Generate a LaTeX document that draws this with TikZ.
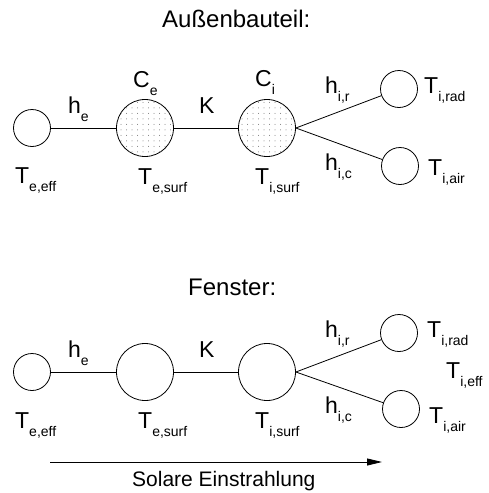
\documentclass[tikz,border=0pt]{standalone}
\usepackage{fontspec}
\setmainfont{Liberation Sans}
\usetikzlibrary{arrows.meta,patterns.meta}
\newcommand{\tlab}[2]{#1\raisebox{-8pt}{\fontsize{14}{16}\selectfont #2}}
\tikzset{
  small node/.style={circle, draw, line width=0.8pt, minimum size=37pt, inner sep=0pt},
  big node/.style={circle, draw, line width=0.8pt, minimum size=57pt, inner sep=0pt},
  mass node/.style={big node, pattern={Dots[distance=5.5pt,radius=0.5pt]}, pattern color=black!55},
  lbl/.style={anchor=base west, inner sep=0pt, font=\fontsize{23}{27}\selectfont},
  title/.style={anchor=base west, inner sep=0pt, font=\fontsize{24}{28}\selectfont},
  wire/.style={line width=0.8pt},
}
\begin{document}
\begin{tikzpicture}[x=1pt, y=-1pt]
  \useasboundingbox (0,0) rectangle (489,493);
  % Aussenbauteil
  \node[title] (ttop) at (162,27) {Außenbauteil:};
  \node[small node] (ateeff) at (32,128) {};
  \node[mass node] (atesurf) at (145,128) {};
  \node[mass node] (atisurf) at (267,128) {};
  \node[small node] (atirad) at (399,89) {};
  \node[small node] (atiair) at (400,166) {};
  \draw[wire] (ateeff) -- (atesurf);
  \draw[wire] (atesurf) -- (atisurf);
  \draw[wire] (atisurf.east) -- (atirad);
  \draw[wire] (atisurf.east) -- (atiair);
  \node[lbl] (ahe) at (68,113) {\tlab{h}{e}};
  \node[lbl] (ace) at (133,87) {\tlab{C}{e}};
  \node[lbl] (ak) at (199,113) {K};
  \node[lbl] (aci) at (255,86) {\tlab{C}{i}};
  \node[lbl] (ahir) at (325,93) {\tlab{h}{i,r}};
  \node[lbl] (ahic) at (325,170) {\tlab{h}{i,c}};
  \node[lbl] (alteeff) at (15,183) {\tlab{T}{e,eff}};
  \node[lbl] (altesurf) at (138,184) {\tlab{T}{e,surf}};
  \node[lbl] (altisurf) at (255,184) {\tlab{T}{i,surf}};
  \node[lbl] (altirad) at (424,93) {\tlab{T}{i,rad}};
  \node[lbl] (altiair) at (428,175) {\tlab{T}{i,air}};
  % Fenster
  \node[title] (tbot) at (188,295) {Fenster:};
  \node[small node] (fteeff) at (32,372) {};
  \node[big node] (ftesurf) at (145,372) {};
  \node[big node] (ftisurf) at (267,372) {};
  \node[small node] (ftirad) at (399,333) {};
  \node[small node] (ftiair) at (401,409) {};
  \draw[wire] (fteeff) -- (ftesurf);
  \draw[wire] (ftesurf) -- (ftisurf);
  \draw[wire] (ftisurf.east) -- (ftirad);
  \draw[wire] (ftisurf.east) -- (ftiair);
  \node[lbl] (fhe) at (68,357) {\tlab{h}{e}};
  \node[lbl] (fk) at (199,357) {K};
  \node[lbl] (fhir) at (325,337) {\tlab{h}{i,r}};
  \node[lbl] (fhic) at (325,413) {\tlab{h}{i,c}};
  \node[lbl] (flteeff) at (15,428) {\tlab{T}{e,eff}};
  \node[lbl] (fltesurf) at (138,428) {\tlab{T}{e,surf}};
  \node[lbl] (fltisurf) at (255,428) {\tlab{T}{i,surf}};
  \node[lbl] (fltirad) at (427,337) {\tlab{T}{i,rad}};
  \node[lbl] (fltieff) at (446,378) {\tlab{T}{i,eff}};
  \node[lbl] (fltiair) at (429,423) {\tlab{T}{i,air}};
  % Solare Einstrahlung
  \coordinate (sstart) at (50,462);
  \coordinate (send) at (382,462);
  \draw[wire, -{Triangle[length=15pt,width=7pt]}] (sstart) -- (send);
  \node[anchor=base west, inner sep=0pt, font=\fontsize{21}{25}\selectfont] (slbl) at (132,486) {Solare Einstrahlung};
\end{tikzpicture}
\end{document}
